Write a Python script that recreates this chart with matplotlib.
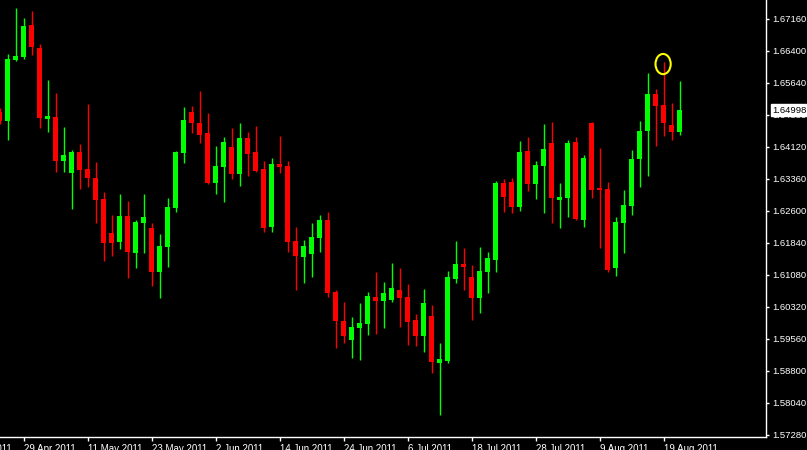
import numpy as np
import matplotlib
matplotlib.use("Agg")
import matplotlib.pyplot as plt
from matplotlib.patches import Ellipse
from matplotlib.transforms import blended_transform_factory

plt.rcParams['font.family'] = ['Liberation Sans', 'DejaVu Sans']

# daily candles, first one is cut at the left edge
opens = [1.6495, 1.6474, 1.6619, 1.6626, 1.6702, 1.6647, 1.6478, 1.6483, 1.6379, 1.6350,
         1.6400, 1.6360, 1.6338, 1.6288, 1.6208, 1.6186, 1.6248, 1.6160, 1.6231, 1.6220,
         1.6115, 1.6174, 1.6267, 1.6398, 1.6495, 1.6469, 1.6445, 1.6326, 1.6364, 1.6412,
         1.6348, 1.6433, 1.6400, 1.6360, 1.6222, 1.6372, 1.6367, 1.6189, 1.6151, 1.6158,
         1.6196, 1.6239, 1.6068, 1.5999, 1.5954, 1.5982, 1.5992, 1.6056, 1.6046, 1.6049,
         1.6072, 1.6056, 1.6001, 1.5963, 1.6011, 1.5899, 1.5904, 1.6098, 1.6134, 1.6103,
         1.6053, 1.6115, 1.6144, 1.6326, 1.6329, 1.6270, 1.6403, 1.6324, 1.6367, 1.6421,
         1.6286, 1.6291, 1.6424, 1.6239, 1.6469, 1.6315, 1.6312, 1.6125, 1.6231, 1.6272,
         1.6383, 1.6450, 1.6538, 1.6512, 1.6464, 1.6448]
highs = [1.6505, 1.6633, 1.6742, 1.6718, 1.6735, 1.6657, 1.6571, 1.6540, 1.6459, 1.6405,
         1.6419, 1.6514, 1.6376, 1.6305, 1.6250, 1.6300, 1.6284, 1.6239, 1.6300, 1.6231,
         1.6205, 1.6291, 1.6403, 1.6507, 1.6509, 1.6545, 1.6493, 1.6414, 1.6436, 1.6457,
         1.6469, 1.6448, 1.6462, 1.6379, 1.6386, 1.6438, 1.6379, 1.6222, 1.6191, 1.6231,
         1.6250, 1.6258, 1.6072, 1.6044, 1.6008, 1.6041, 1.6068, 1.6115, 1.6091, 1.6136,
         1.6125, 1.6087, 1.6015, 1.6075, 1.6037, 1.5947, 1.6117, 1.6189, 1.6172, 1.6132,
         1.6174, 1.6163, 1.6331, 1.6336, 1.6338, 1.6426, 1.6436, 1.6379, 1.6467, 1.6471,
         1.6326, 1.6429, 1.6436, 1.6393, 1.6471, 1.6410, 1.6329, 1.6246, 1.6310, 1.6405,
         1.6474, 1.6588, 1.6550, 1.6614, 1.6516, 1.6569]
lows = [1.6467, 1.6429, 1.6616, 1.6621, 1.6630, 1.6457, 1.6448, 1.6353, 1.6353, 1.6265,
        1.6312, 1.6317, 1.6231, 1.6141, 1.6153, 1.6170, 1.6101, 1.6125, 1.6160, 1.6082,
        1.6053, 1.6127, 1.6258, 1.6374, 1.6445, 1.6421, 1.6324, 1.6300, 1.6281, 1.6336,
        1.6319, 1.6343, 1.6353, 1.6210, 1.6210, 1.6350, 1.6163, 1.6072, 1.6089, 1.6103,
        1.6163, 1.6056, 1.5935, 1.5947, 1.5911, 1.5906, 1.5965, 1.5968, 1.5982, 1.6044,
        1.5984, 1.5942, 1.5939, 1.5925, 1.5875, 1.5776, 1.5899, 1.6089, 1.6072, 1.6001,
        1.6018, 1.6065, 1.6115, 1.6258, 1.6255, 1.6260, 1.6308, 1.6288, 1.6255, 1.6231,
        1.6220, 1.6246, 1.6239, 1.6222, 1.6291, 1.6172, 1.6115, 1.6106, 1.6160, 1.6250,
        1.6317, 1.6343, 1.6414, 1.6438, 1.6429, 1.6440]
closes = [1.6474, 1.6621, 1.6628, 1.6699, 1.6649, 1.6481, 1.6486, 1.6379, 1.6393, 1.6400,
          1.6357, 1.6338, 1.6286, 1.6184, 1.6184, 1.6248, 1.6163, 1.6234, 1.6246, 1.6115,
          1.6177, 1.6270, 1.6400, 1.6476, 1.6469, 1.6440, 1.6326, 1.6367, 1.6424, 1.6348,
          1.6433, 1.6395, 1.6355, 1.6220, 1.6372, 1.6364, 1.6186, 1.6153, 1.6177, 1.6198,
          1.6239, 1.6065, 1.5999, 1.5963, 1.5984, 1.5994, 1.6058, 1.6046, 1.6065, 1.6077,
          1.6053, 1.5996, 1.5963, 1.6041, 1.5901, 1.5908, 1.6103, 1.6134, 1.6127, 1.6053,
          1.6117, 1.6148, 1.6326, 1.6293, 1.6270, 1.6400, 1.6324, 1.6369, 1.6407, 1.6291,
          1.6293, 1.6421, 1.6241, 1.6386, 1.6310, 1.6310, 1.6120, 1.6234, 1.6274, 1.6383,
          1.6450, 1.6538, 1.6509, 1.6469, 1.6448, 1.64998]

date_labels = ["19 Apr 2011", "29 Apr 2011", "11 May 2011", "23 May 2011", "2 Jun 2011",
               "14 Jun 2011", "24 Jun 2011", "6 Jul 2011", "18 Jul 2011", "28 Jul 2011",
               "9 Aug 2011", "19 Aug 2011"]
date_bars = [-6, 2, 10, 18, 26, 34, 42, 50, 58, 66, 74, 82]
price_ticks = [1.57280, 1.58040, 1.58800, 1.59560, 1.60320, 1.61080, 1.61840,
               1.62600, 1.63360, 1.64120, 1.64880, 1.65640, 1.66400, 1.67160]
last_price = 1.64998
marked_bar = 82   # the high circled in yellow

o = np.array(opens)
h = np.array(highs)
l = np.array(lows)
c = np.array(closes)
x = np.arange(len(o)) - 1
up = c >= o
cols = np.where(up, '#00ff00', '#ff0000')

fig = plt.figure(figsize=(8.07, 4.5), dpi=100, facecolor='black')
ax = fig.add_axes([0, 13 / 450, 766 / 807, 437 / 450], facecolor='black')

# wicks then bodies
ax.vlines(x, l, h, colors=cols, linewidth=1, zorder=2)
ax.bar(x, np.abs(c - o), bottom=np.minimum(o, c), width=0.64,
       color=cols, linewidth=0, zorder=3)

ax.set_xlim(-0.9375, 94.8125)
ax.set_ylim(1.572325, 1.6761125)

# yellow ring on the top wick
ax.add_patch(Ellipse((marked_bar - 0.05, 1.6609), 1.9, 0.0048, fill=False,
                     edgecolor='#ffff00', linewidth=1.5, zorder=4))

# axes frame like the terminal
for s in ['top', 'left']:
    ax.spines[s].set_visible(False)
for s in ['right', 'bottom']:
    ax.spines[s].set_color('white')
    ax.spines[s].set_linewidth(1)

ax.yaxis.tick_right()
ax.set_yticks(price_ticks)
ax.set_yticklabels([f"{p:.5f}" for p in price_ticks])
ax.tick_params(axis='y', colors='white', length=2.2, width=1, pad=2.2, labelsize=6.8)

ax.set_xticks([b for b in date_bars if b >= 0])
ax.set_xticklabels([])
ax.tick_params(axis='x', colors='white', length=3, width=1)

tr = blended_transform_factory(ax.transData, ax.transAxes)
for b, lab in zip(date_bars, date_labels):
    ax.text(b, -0.016, lab, transform=tr, ha='left', va='top', color='white',
            fontsize=7, clip_on=False)

# current price box
ax.text(1.0085, last_price, f"{last_price:.5f}",
        transform=blended_transform_factory(ax.transAxes, ax.transData),
        ha='left', va='center', color='black', fontsize=6.8, clip_on=False, zorder=10,
        bbox=dict(boxstyle='square,pad=0.12', facecolor='white', edgecolor='white'))

fig.savefig("out.png", dpi=100, facecolor='black')
